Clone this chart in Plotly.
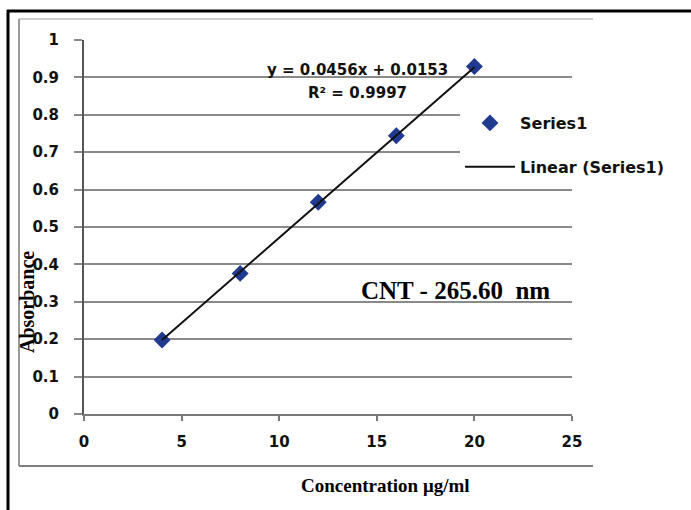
import plotly.graph_objects as go

# ---- data ----
conc = [4, 8, 12, 16, 20]
absorbance = [0.198, 0.376, 0.566, 0.744, 0.929]
trend_x = [4, 20]
trend_y = [0.1977, 0.9273]
x_ticks = [0, 5, 10, 15, 20, 25]
y_ticks = [0, 0.1, 0.2, 0.3, 0.4, 0.5, 0.6, 0.7, 0.8, 0.9, 1]
equation = "y = 0.0456x + 0.0153"
r2 = "R² = 0.9997"
note = "CNT - 265.60  nm"

W, H = 691, 510
L, R, T, B = 84, 572, 40, 414  # plot area in pixels


def px(x):
    return (x - L) / (R - L)


def py(y):
    return (B - y) / (B - T)


sans = "DejaVu Sans, sans-serif"
times = "Liberation Serif, Times New Roman, serif"

fig = go.Figure()
fig.add_trace(go.Scatter(
    x=conc, y=absorbance, mode="markers", name="Series1",
    marker=dict(symbol="diamond", size=13, color="#1f3a8f"),
    legendgroup="a",
))
fig.add_trace(go.Scatter(
    x=trend_x, y=trend_y, mode="lines", name="Linear (Series1)",
    line=dict(color="#111111", width=2),
    legendgroup="b",
))

shapes = []
# outer black frame: top and left edges (others fall outside the picture)
shapes.append(dict(type="line", xref="paper", yref="paper",
                   x0=px(7), x1=px(691), y0=py(11), y1=py(11),
                   line=dict(color="black", width=3), layer="below"))
shapes.append(dict(type="line", xref="paper", yref="paper",
                   x0=px(8), x1=px(8), y0=py(10), y1=py(510),
                   line=dict(color="black", width=3), layer="below"))
# inner chart area frame (gray)
shapes.append(dict(type="line", xref="paper", yref="paper",
                   x0=px(19), x1=px(593), y0=py(19), y1=py(19),
                   line=dict(color="#cfcfcf", width=2), layer="below"))
shapes.append(dict(type="line", xref="paper", yref="paper",
                   x0=px(19), x1=px(19), y0=py(19), y1=py(466),
                   line=dict(color="#9a9a9a", width=2), layer="below"))
shapes.append(dict(type="line", xref="paper", yref="paper",
                   x0=px(19), x1=px(593), y0=py(466), y1=py(466),
                   line=dict(color="#808080", width=2), layer="below"))


def ann(text, x, y, font, angle=0):
    return dict(text=text, xref="paper", yref="paper", x=px(x), y=py(y),
                xanchor="center", yanchor="middle", showarrow=False,
                textangle=angle, font=font)


f_eq = dict(family=sans, size=15, color="#111", weight="bold")
annotations = [
    ann(equation, 357, 70, f_eq),
    ann(r2, 357, 93, f_eq),
    ann(note, 455, 290, dict(family=times, size=25, color="#000", weight="bold")),
    ann("Concentration μg/ml", 385, 486, dict(family=times, size=19, color="#000", weight="bold")),
    ann("Absorbance", 27, 302, dict(family=times, size=20, color="#000", weight="bold"), angle=-90),
]

tick_font = dict(family=sans, size=15, color="#111", weight="bold")

fig.update_layout(
    width=W, height=H,
    margin=dict(l=L, r=W - R, t=T, b=H - B),
    paper_bgcolor="white", plot_bgcolor="white",
    showlegend=True,
    legend=dict(x=px(460), y=py(106), xanchor="left", yanchor="top",
                bgcolor="white", tracegroupgap=20, itemwidth=50,
                font=dict(family=sans, size=16, color="#111", weight="bold")),
    shapes=shapes, annotations=annotations,
    xaxis=dict(range=[0, 25], tickvals=x_ticks, showgrid=False,
               showline=True, linecolor="#7a7a7a", linewidth=2,
               ticks="outside", ticklen=5, tickcolor="#7a7a7a", tickwidth=2,
               ticklabelstandoff=8, zeroline=False, tickfont=tick_font),
    yaxis=dict(range=[0, 1], tickvals=y_ticks, showgrid=True,
               gridcolor="#8a8a8a", gridwidth=2,
               showline=True, linecolor="#555555", linewidth=2,
               ticks="outside", ticklen=8, tickcolor="#8a8a8a", tickwidth=2,
               ticklabelstandoff=12, zeroline=False, tickfont=tick_font),
)

fig.write_html("out.html")
